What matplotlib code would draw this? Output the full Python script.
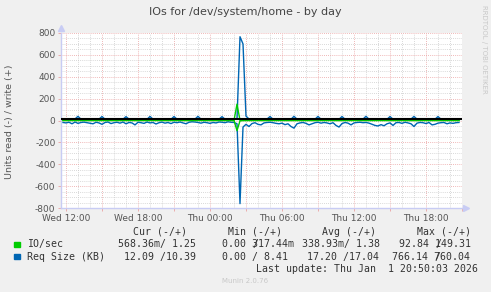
import matplotlib
matplotlib.use('Agg')
from matplotlib import pyplot as plt
from matplotlib import dates as mdates
import matplotlib.ticker as ticker
import matplotlib.transforms as mtransforms
import pandas as pd

# samples every 15 min, Wed 31 Dec 2025 11:45 -> Thu 1 Jan 2026 20:45
times = pd.date_range('2025-12-31 11:45', '2026-01-01 20:45', freq='15min')

# Req Size (KB): write (+) and read (-, stored as magnitude)
req_write = [12, 13, 11, 12, 14, 38, 12, 11, 13, 12,
             11, 12, 13, 36, 12, 11, 12, 13, 12, 11,
             12, 35, 13, 12, 11, 12, 13, 12, 11, 37,
             12, 13, 11, 12, 12, 13, 11, 36, 12, 12,
             13, 11, 12, 12, 13, 38, 12, 11, 12, 13,
             12, 11, 12, 35, 12, 13, 12, 11, 14, 766,
             700, 40, 14, 12, 13, 12, 11, 12, 13, 36,
             12, 11, 12, 13, 12, 12, 11, 38, 12, 13,
             12, 11, 12, 13, 12, 37, 12, 11, 12, 13,
             12, 12, 11, 36, 12, 13, 12, 11, 12, 12,
             13, 38, 12, 11, 12, 13, 12, 12, 11, 36,
             12, 13, 12, 11, 12, 12, 13, 37, 12, 11,
             12, 13, 12, 11, 12, 36, 12, 13, 12, 11,
             12, 11, 10]
req_read = [18, 22, 16, 30, 14, 26, 18, 15, 20, 24,
            30, 16, 22, 35, 18, 14, 28, 20, 16, 24,
            14, 30, 18, 22, 40, 16, 20, 26, 14, 22,
            18, 32, 20, 15, 24, 18, 28, 16, 20, 14,
            22, 30, 16, 12, 14, 18, 24, 16, 20, 26,
            18, 22, 14, 16, 20, 12, 16, 18, 30, 760,
            60, 35, 55, 28, 20, 35, 40, 22, 18, 16,
            20, 26, 30, 24, 38, 30, 55, 70, 30, 22,
            18, 26, 40, 30, 20, 16, 24, 18, 22, 30,
            20, 45, 60, 28, 18, 24, 40, 22, 18, 16,
            20, 18, 24, 35, 45, 50, 38, 48, 30, 22,
            45, 20, 18, 26, 16, 22, 30, 55, 24, 18,
            20, 28, 18, 40, 35, 24, 20, 18, 30, 22,
            26, 20, 18]

# IO/sec: write (+) and read (-)
io_write = [1.3, 1.4, 1.2, 1.3, 1.5, 1.6, 1.3, 1.2, 1.4, 1.3,
            1.2, 1.3, 1.4, 1.6, 1.3, 1.2, 1.3, 1.4, 1.3, 1.2,
            1.3, 1.5, 1.4, 1.3, 1.2, 1.3, 1.4, 1.3, 1.2, 1.6,
            1.3, 1.4, 1.2, 1.3, 1.3, 1.4, 1.2, 1.5, 1.3, 1.3,
            1.4, 1.2, 1.3, 1.3, 1.4, 1.6, 1.3, 1.2, 1.3, 1.4,
            1.3, 1.2, 1.3, 1.5, 1.3, 1.4, 1.3, 1.2, 149.3, 2.5,
            2.0, 1.6, 1.4, 1.3, 1.4, 1.3, 1.2, 1.3, 1.4, 1.5,
            1.3, 1.2, 1.3, 1.4, 1.3, 1.3, 1.2, 1.6, 1.3, 1.4,
            1.3, 1.2, 1.3, 1.4, 1.3, 1.5, 1.3, 1.2, 1.3, 1.4,
            1.3, 1.3, 1.2, 1.5, 1.3, 1.4, 1.3, 1.2, 1.3, 1.3,
            1.4, 1.6, 1.3, 1.2, 1.3, 1.4, 1.3, 1.3, 1.2, 1.5,
            1.3, 1.4, 1.3, 1.2, 1.3, 1.3, 1.4, 1.6, 1.3, 1.2,
            1.3, 1.4, 1.3, 1.2, 1.3, 1.5, 1.3, 1.4, 1.3, 1.2,
            1.3, 1.2, 1.25]
io_read = [0.3, 0.4, 0.3, 0.5, 0.3, 0.4, 0.3, 0.3, 0.4, 0.3,
           0.5, 0.3, 0.4, 0.6, 0.3, 0.3, 0.4, 0.3, 0.3, 0.4,
           0.3, 0.5, 0.3, 0.4, 0.6, 0.3, 0.3, 0.4, 0.3, 0.4,
           0.3, 0.5, 0.3, 0.3, 0.4, 0.3, 0.4, 0.3, 0.3, 0.3,
           0.4, 0.5, 0.3, 0.3, 0.3, 0.3, 0.4, 0.3, 0.3, 0.4,
           0.3, 0.4, 0.3, 0.3, 0.3, 0.3, 0.3, 0.4, 92.8, 3.0,
           1.2, 0.6, 0.8, 0.4, 0.3, 0.5, 0.6, 0.3, 0.3, 0.3,
           0.3, 0.4, 0.5, 0.4, 0.6, 0.5, 0.8, 1.0, 0.5, 0.3,
           0.3, 0.4, 0.6, 0.5, 0.3, 0.3, 0.4, 0.3, 0.3, 0.5,
           0.3, 0.7, 0.9, 0.4, 0.3, 0.4, 0.6, 0.3, 0.3, 0.3,
           0.3, 0.3, 0.4, 0.5, 0.7, 0.8, 0.6, 0.7, 0.5, 0.3,
           0.7, 0.3, 0.3, 0.4, 0.3, 0.3, 0.5, 0.8, 0.4, 0.3,
           0.3, 0.4, 0.3, 0.6, 0.5, 0.4, 0.3, 0.3, 0.5, 0.3,
           0.4, 0.3, 0.57]

series_names = ['IO/sec', 'Req Size (KB)']
series_colors = ['#00cc00', '#0066b3']
cur_vals = ['568.36m/ 1.25', '12.09 /10.39']
min_vals = ['0.00 317.44m', '0.00 / 8.41']
avg_vals = ['338.93m/ 1.38', '17.20 /17.04']
max_vals = ['92.84 149.31', '766.14 760.04']
col_heads = ['Cur (-/+)', 'Min (-/+)', 'Avg (-/+)', 'Max (-/+)']
last_update = 'Last update: Thu Jan  1 20:50:03 2026'

W, H = 491, 292
def fx(x):
    return x / W
def fy(y):
    return 1 - y / H

fig = plt.figure(figsize=(W / 100, H / 100), dpi=100, facecolor='#f0f0f0')
ax = fig.add_axes([fx(61), fy(208), 401 / W, 175 / H])
ax.set_facecolor('white')

neg_req = [-v for v in req_read]
neg_io = [-v for v in io_read]
ax.plot(times, neg_req, color=series_colors[1], lw=1, zorder=4)
ax.plot(times, req_write, color=series_colors[1], lw=1, zorder=4)
ax.plot(times, neg_io, color=series_colors[0], lw=1, zorder=4.5)
ax.plot(times, io_write, color=series_colors[0], lw=1, zorder=4.5)
# zero line sits a hair above the green line, like rrdtool draws it
shift = mtransforms.ScaledTranslation(0, 1.2 / 100, fig.dpi_scale_trans)
ax.plot([0, 1], [0, 0], color='black', lw=1.5, zorder=5,
        transform=ax.get_yaxis_transform() + shift)

ax.set_ylim(-800, 800)
ax.set_xlim(pd.Timestamp('2025-12-31 11:35'), pd.Timestamp('2026-01-01 21:00'))

ax.yaxis.set_major_locator(ticker.MultipleLocator(200))
ax.yaxis.set_minor_locator(ticker.MultipleLocator(50))
ax.yaxis.set_major_formatter(ticker.FuncFormatter(lambda v, p: '%d' % v))
ax.xaxis.set_major_locator(mdates.HourLocator(byhour=range(0, 24, 3)))
ax.xaxis.set_minor_locator(mdates.HourLocator())

def xfmt(v, p):
    d = mdates.num2date(v)
    if d.hour % 6 == 0:
        return d.strftime('%a %H:%M')
    return ''
ax.xaxis.set_major_formatter(ticker.FuncFormatter(xfmt))

ax.grid(which='minor', color='#cccccc', ls=(0, (1, 1.5)), lw=0.6, zorder=1)
ax.grid(which='major', color='#eba0a0', ls=(0, (1, 1.5)), lw=0.6, zorder=2)
ax.tick_params(which='both', length=2, width=0.6, color='#eba0a0', labelsize=6.5,
               labelcolor='#555555', pad=2)
ax.tick_params(which='minor', length=0)
for s in ['top', 'right']:
    ax.spines[s].set_visible(False)
for s in ['left', 'bottom']:
    ax.spines[s].set_color('#c8ccf4')
    ax.spines[s].set_linewidth(1)
# arrows at end of axes
ax.plot([0], [1.03], marker='^', ms=4, color='#c8ccf4', transform=ax.transAxes, clip_on=False)
ax.plot([1.01], [0], marker='>', ms=4, color='#c8ccf4', transform=ax.transAxes, clip_on=False)

fig.text(fx(245), fy(12), 'IOs for /dev/system/home - by day', ha='center', va='center',
         fontsize=8, color='#444444')
fig.text(fx(10), fy(122), 'Units read (-) / write (+)', rotation=90, ha='center', va='center',
         fontsize=6.8, color='#555555')
fig.text(fx(484), fy(5), 'RRDTOOL / TOBI OETIKER', rotation=270, ha='center', va='top',
         fontsize=5, color='#c8c8c8')
fig.text(fx(245), fy(281), 'Munin 2.0.76', ha='center', va='center', fontsize=5, color='#c8c8c8')

mono = dict(family='DejaVu Sans Mono', fontsize=7.15, color='#333333', va='center')
cw = 5.97
for x, h in zip([133.3, 228, 322, 416.7], col_heads):
    fig.text(fx(x), fy(232), h, **mono)
rows_y = [244.3, 256.7]
starts = {'cur': [118.3, 124.3], 'min': [222.3, 222.3], 'avg': [301.7, 307.3], 'max': [399.3, 392.3]}
slash = {('min', 0): 5, ('max', 0): 6, ('max', 1): 7}
for i in range(2):
    y = rows_y[i]
    fig.patches.append(plt.Rectangle((fx(14), fy(y + 2.7)), 5.5 / W, 5.5 / H,
                                     transform=fig.transFigure, color=series_colors[i]))
    fig.text(fx(26.7), fy(y), series_names[i], **mono)
    for key, vals in zip(['cur', 'min', 'avg', 'max'], [cur_vals, min_vals, avg_vals, max_vals]):
        x0 = starts[key][i]
        fig.text(fx(x0), fy(y), vals[i], **mono)
        if (key, i) in slash:
            fig.text(fx(x0 + slash[(key, i)] * cw), fy(y), '/', **mono)
fig.text(fx(255.7), fy(269), last_update, **mono)

fig.savefig('out.png', dpi=100, facecolor=fig.get_facecolor())
